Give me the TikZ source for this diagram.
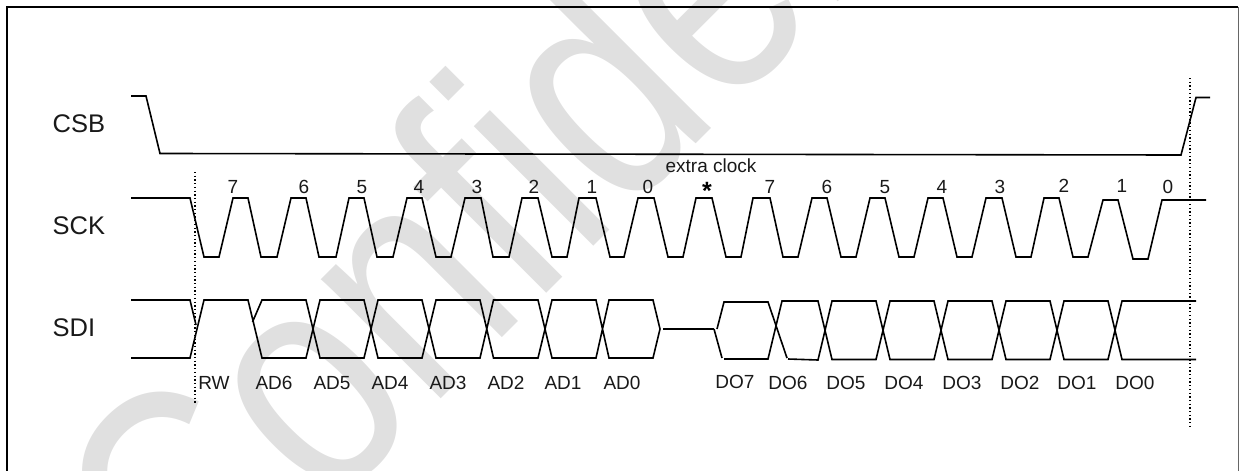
\documentclass[tikz,border=0pt]{standalone}
\usepackage{fontspec}
\setmainfont{Liberation Sans}
\tikzset{
  x=1pt,y=-1pt,
  sig/.style={line width=1.6pt,line join=miter,black},
  frameline/.style={line width=1.8pt,black},
  guide/.style={line width=1.3pt,dash pattern=on 1.3pt off 2.4pt,black},
  siglabel/.style={anchor=base west,inner sep=0pt,font=\fontsize{25.5}{25.5}\selectfont,text=black!90},
  small/.style={anchor=base,inner sep=0pt,font=\fontsize{19}{19}\selectfont,text=black!90}
}
\begin{document}
\begin{tikzpicture}
\useasboundingbox (0,0) rectangle (1240,471);
% watermark
\begin{scope}
\clip (0,0) rectangle (1240,471);
\node[anchor=base west,inner sep=0pt,rotate=45,xscale=.81,text=black!12,font=\fontsize{320}{320}\selectfont] (wm) at (194,646) {Confidential};
\end{scope}
% frame
\draw[frameline] (7,471) -- (7,7) -- (1238,7);
\draw[line width=1pt,black!60] (1238,7) -- (1238,471);
% guides
\coordinate (gla) at (195,172); \coordinate (glb) at (195,403);
\coordinate (gra) at (1190,78); \coordinate (grb) at (1190,428);
\draw[guide] (gla) -- (glb);
\draw[guide] (gra) -- (grb);
% CSB
\draw[sig] (131,96) -- (146,96) -- (160,153.5) -- (1181,155) -- (1196,97.5) -- (1210,97.5);
% SCK
\draw[sig] (131,198)--(190,198)--(204,257)--(219,257)--(233,198)--(248,198)--(261,257)--(277,257)--(291,198)--(306,198)--(319,257)--(336,257)--(349,198)--(364,198)--(377,257)--(393,257)--(407,198)--(422,198)--(436,257)--(451,257)--(465,198)--(481,198)--(493,257)--(509,257)--(522,198)--(538,198)--(552,257)--(567,257)--(579,198)--(596,198)--(610,257)--(624,257)--(638,198)--(654,198)--(668,257)--(683,257)--(696,198)--(712,198)--(726,257)--(741,257)--(753,198)--(770,198)--(783,257)--(798,257)--(812,198)--(827,198)--(841,257)--(856,257)--(870,198)--(885,198)--(899,257)--(914,257)--(928,198)--(943,198)--(957,257)--(972,257)--(986,198)--(1002,198)--(1016,257)--(1031,257)--(1044,198)--(1059,198)--(1073,257)--(1088,257)--(1103,200)--(1118,200)--(1133,259)--(1148,259)--(1162,200)--(1206,200);
% SDI left part
\draw[sig] (131,300)--(190,300)--(196,325);
\draw[sig] (131,358)--(190,358)--(204,300)--(248,300)--(262,358)--(306,358)--(320,300)--(364,300)--(378,358)--(422,358)--(436,300)--(480,300)--(493.5,358)--(538,358)--(552,300)--(596,300)--(609,358)--(653,358)--(660,329)--(653,300)--(609,300)--(596,358)--(552,358)--(538,300)--(493.5,300)--(480,358)--(436,358)--(422,300)--(378,300)--(364,358)--(320,358)--(306,300)--(262,300)--(252.5,322);
% high-Z
\draw[sig] (663,329)--(714,329);
% SDI right part
\draw[sig] (717,329)--(724,302)--(768,302)--(787,358);
\draw[sig] (714,329)--(722,358);
\draw[sig] (724,359)--(768,359)--(782,301)--(818,301)--(832,359.5)--(876,359.5)--(890,301)--(934,301)--(948,359.5)--(992,359.5)--(1006,301)--(1050,301)--(1064,359.5)--(1108,359.5)--(1122,301)--(1196,301);
\draw[sig] (788,359)--(818,360)--(832,301)--(876,301)--(890,359.5)--(934,359.5)--(948,301)--(992,301)--(1006,359.5)--(1050,359.5)--(1064,301)--(1108,301)--(1122,359.5)--(1196,359.5);
% signal names
\node[siglabel] (csb) at (52.5,132) {CSB};
\node[siglabel] (sck) at (52.5,234) {SCK};
\node[siglabel] (sdi) at (52.5,336) {SDI};
% bit numbers
\node[small] (n1) at (233,193) {7};
\node[small] (n2) at (304,193) {6};
\node[small] (n3) at (362,193) {5};
\node[small] (n4) at (419,193) {4};
\node[small] (n5) at (477,193) {3};
\node[small] (n6) at (534,193) {2};
\node[small] (n7) at (592,193) {1};
\node[small] (n8) at (648,193) {0};
\node[anchor=base,inner sep=0pt,font=\fontsize{25}{25}\selectfont\bfseries] (star) at (707,199) {*};
\node[small] (n9) at (770,193) {7};
\node[small] (n10) at (827,193) {6};
\node[small] (n11) at (885,193) {5};
\node[small] (n12) at (942,193) {4};
\node[small] (n13) at (1000,193) {3};
\node[small] (n14) at (1064,192) {2};
\node[small] (n15) at (1122,192) {1};
\node[small] (n16) at (1168,193) {0};
\node[small] (extra) at (711,172) {extra clock};
% bit names
\node[small] (b1) at (214,389) {RW};
\node[small] (b2) at (274,389) {AD6};
\node[small] (b3) at (332,389) {AD5};
\node[small] (b4) at (390,389) {AD4};
\node[small] (b5) at (448,389) {AD3};
\node[small] (b6) at (506,389) {AD2};
\node[small] (b7) at (563,389) {AD1};
\node[small] (b8) at (622,389) {AD0};
\node[small] (b9) at (735,388) {DO7};
\node[small] (b10) at (788,389) {DO6};
\node[small] (b11) at (846,389) {DO5};
\node[small] (b12) at (904,389) {DO4};
\node[small] (b13) at (962,389) {DO3};
\node[small] (b14) at (1020,389) {DO2};
\node[small] (b15) at (1077,389) {DO1};
\node[small] (b16) at (1135,389) {DO0};
\end{tikzpicture}
\end{document}
